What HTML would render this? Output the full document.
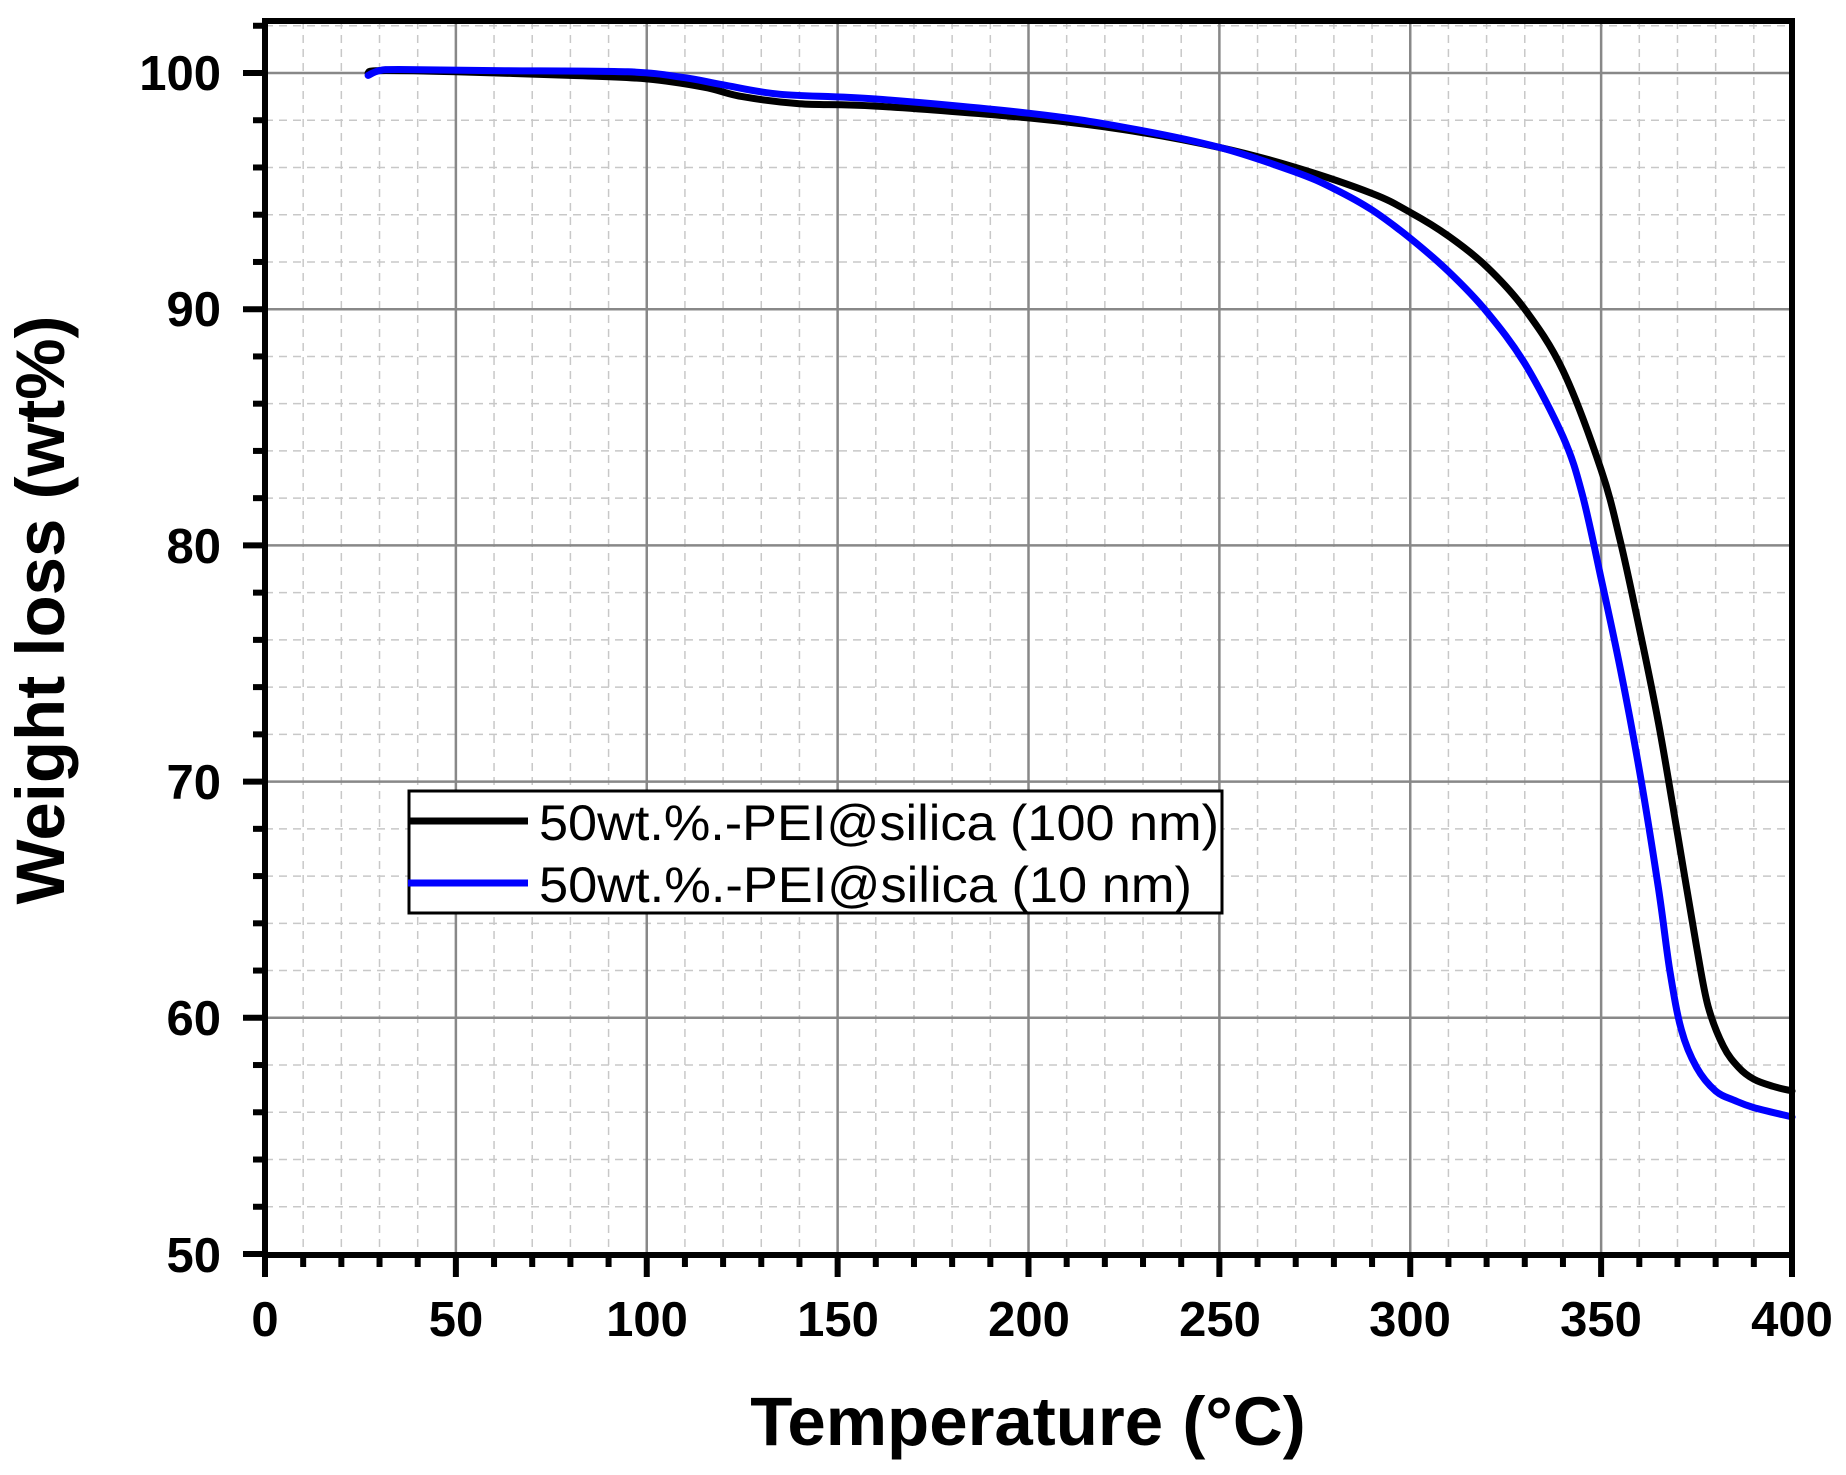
<!DOCTYPE html>
<html><head><meta charset="utf-8"><style>
html,body{margin:0;padding:0;background:#fff;}
svg{display:block;}
text{font-family:"Liberation Sans",Arial,sans-serif;}
</style></head><body>
<svg id="s" width="1846" height="1475" viewBox="0 0 1846 1475" xmlns="http://www.w3.org/2000/svg">
<rect width="1846" height="1475" fill="#fff"/>
<g id="grid"></g>
<g id="curves"></g>
<g id="axes"></g>
<g font-weight="bold" font-size="49" fill="#000">
<text x="221" y="90" text-anchor="end">100</text>
<text x="221" y="326" text-anchor="end">90</text>
<text x="221" y="563" text-anchor="end">80</text>
<text x="221" y="799" text-anchor="end">70</text>
<text x="221" y="1035" text-anchor="end">60</text>
<text x="221" y="1272" text-anchor="end">50</text>
<text x="265" y="1336" text-anchor="middle">0</text>
<text x="456" y="1336" text-anchor="middle">50</text>
<text x="647" y="1336" text-anchor="middle">100</text>
<text x="838" y="1336" text-anchor="middle">150</text>
<text x="1029" y="1336" text-anchor="middle">200</text>
<text x="1220" y="1336" text-anchor="middle">250</text>
<text x="1410" y="1336" text-anchor="middle">300</text>
<text x="1601" y="1336" text-anchor="middle">350</text>
<text x="1792" y="1336" text-anchor="middle">400</text>
</g>
<text x="1028" y="1445" text-anchor="middle" font-weight="bold" font-size="69">Temperature (°C)</text>
<text transform="translate(64,610) rotate(-90)" text-anchor="middle" font-weight="bold" font-size="69">Weight loss (wt%)</text>
<rect x="409" y="791" width="813" height="122" fill="#fff" stroke="#000" stroke-width="3"/>
<line x1="408" y1="821" x2="528" y2="821" stroke="#000" stroke-width="7"/>
<line x1="408" y1="883" x2="528" y2="883" stroke="#0000ff" stroke-width="7"/>
<text x="539" y="840" font-size="50" textLength="680" lengthAdjust="spacingAndGlyphs">50wt.%.-PEI@silica (100 nm)</text>
<text x="539" y="902" font-size="50" textLength="653" lengthAdjust="spacingAndGlyphs">50wt.%.-PEI@silica (10 nm)</text>
</svg>
<script>
var NS="http://www.w3.org/2000/svg";
function X(t){return 265+t*3.8175;}
function Y(w){return 73+(100-w)*23.62;}
function el(p,n,a){var e=document.createElementNS(NS,n);for(var k in a)e.setAttribute(k,a[k]);p.appendChild(e);return e;}
var g=document.getElementById('grid'),ax=document.getElementById('axes'),cv=document.getElementById('curves');
var L=265,R=1792,T=21,B=1255;
for(var t=10;t<400;t+=10){if(t%50)el(g,'line',{x1:X(t),x2:X(t),y1:T,y2:B,stroke:'#c8c8c8','stroke-width':1.5,'stroke-dasharray':'8,6'});}
for(var w=52;w<=102;w+=2){if(w%10)el(g,'line',{x1:L,x2:R,y1:Y(w),y2:Y(w),stroke:'#c8c8c8','stroke-width':1.5,'stroke-dasharray':'8,6'});}
for(var t=50;t<400;t+=50)el(g,'line',{x1:X(t),x2:X(t),y1:T,y2:B,stroke:'#888','stroke-width':2.5});
for(var w=60;w<=100;w+=10)el(g,'line',{x1:L,x2:R,y1:Y(w),y2:Y(w),stroke:'#888','stroke-width':2.5});
function path(d,c){var P=d.map(function(p){return [X(p[0]),Y(p[1])];});var s='M'+P[0][0].toFixed(1)+','+P[0][1].toFixed(1);
for(var i=0;i<P.length-1;i++){var p0=P[Math.max(0,i-1)],p1=P[i],p2=P[i+1],p3=P[Math.min(P.length-1,i+2)];
var c1=[p1[0]+(p2[0]-p0[0])/6,p1[1]+(p2[1]-p0[1])/6],c2=[p2[0]-(p3[0]-p1[0])/6,p2[1]-(p3[1]-p1[1])/6];
s+='C'+c1[0].toFixed(1)+','+c1[1].toFixed(1)+' '+c2[0].toFixed(1)+','+c2[1].toFixed(1)+' '+p2[0].toFixed(1)+','+p2[1].toFixed(1);}
el(cv,'path',{d:s,fill:'none',stroke:c,'stroke-width':7,'stroke-linejoin':'round','stroke-linecap':'round'});}
var blk=[[27,100],[30,100.1],[50,100.05],[80,99.9],[100,99.75],[115,99.4],[125,99.0],[140,98.7],[160,98.6],[200,98.1],[225,97.6],[250,96.85],[270,96.0],[290,94.9],[300,94.1],[310,93.1],[320,91.8],[330,90.0],[340,87.4],[350,83.2],[355,80.2],[360,76.5],[365,72.5],[370,67.8],[375,63],[378,60.5],[382,58.8],[386,57.9],[390,57.4],[395,57.1],[400,56.9]];
var blu=[[27,99.9],[30,100.1],[35,100.15],[60,100.1],[95,100.05],[110,99.8],[120,99.5],[135,99.1],[160,98.9],[200,98.3],[225,97.7],[250,96.85],[270,95.8],[280,95.1],[290,94.2],[300,93.0],[310,91.6],[320,89.9],[330,87.7],[340,84.6],[345,82.2],[350,78.6],[355,74.8],[360,70.5],[365,65.5],[368,62],[371,59.5],[375,57.9],[380,56.9],[385,56.5],[390,56.2],[400,55.8]];
path(blk,'#000');path(blu,'#0000ff');
el(ax,'rect',{x:L,y:T,width:R-L,height:B-T,fill:'none',stroke:'#000','stroke-width':6});
for(var t=0;t<=400;t+=10){var m=(t%50==0);el(ax,'line',{x1:X(t),x2:X(t),y1:B,y2:B+(m?22:12),stroke:'#000','stroke-width':6});}
for(var w=50;w<=102;w+=2){var m=(w%10==0);el(ax,'line',{x1:L,x2:L-(m?22:12),y1:Y(w),y2:Y(w),stroke:'#000','stroke-width':6});}
</script>
</body></html>
